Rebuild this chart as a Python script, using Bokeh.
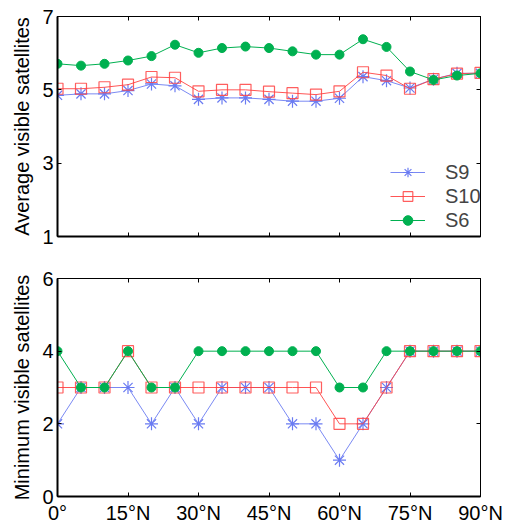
from bokeh.plotting import figure
from bokeh.models import Range1d, LinearAxis, FixedTicker
from bokeh.layouts import column
from bokeh.embed import file_html
from bokeh.resources import INLINE

lat = [0, 5, 10, 15, 20, 25, 30, 35, 40, 45, 50, 55, 60, 65, 70, 75, 80, 85, 90]
x_tick_labels = {0: "0°", 15: "15°N", 30: "30°N", 45: "45°N", 60: "60°N", 75: "75°N", 90: "90°N"}

avg_s9 = [4.85, 4.89, 4.89, 4.98, 5.16, 5.11, 4.74, 4.78, 4.78, 4.74, 4.69, 4.69, 4.77, 5.36, 5.25, 5.05, 5.29, 5.45, 5.45]
avg_s10 = [5.03, 5.03, 5.07, 5.14, 5.35, 5.33, 4.96, 5.00, 5.00, 4.95, 4.91, 4.87, 4.96, 5.48, 5.39, 5.03, 5.29, 5.44, 5.46]
avg_s6 = [5.71, 5.66, 5.71, 5.80, 5.92, 6.23, 6.01, 6.14, 6.18, 6.14, 6.05, 5.96, 5.96, 6.38, 6.17, 5.50, 5.27, 5.39, 5.45]

min_s9 = [2, 3, 3, 3, 2, 3, 2, 3, 3, 3, 2, 2, 1, 2, 3, 4, 4, 4, 4]
min_s10 = [3, 3, 3, 4, 3, 3, 3, 3, 3, 3, 3, 3, 2, 2, 3, 4, 4, 4, 4]
min_s6 = [4, 3, 3, 4, 3, 3, 4, 4, 4, 4, 4, 4, 3, 3, 4, 4, 4, 4, 4]

BLUE = "#6b7cf2"
RED = "#ff4242"
GREEN = "#00b050"
FONT = "Liberation Sans"


def hide_labels(ax):
    ax.major_label_text_color = None
    ax.major_label_text_font_size = "1px"
    ax.major_label_standoff = 0


def style(p, yticks, show_xlabels, ylabel):
    p.xgrid.visible = False
    p.ygrid.visible = False
    p.outline_line_color = "black"
    p.outline_line_width = 1
    p.background_fill_color = "white"
    p.border_fill_color = "white"
    for ax in (p.xaxis[0], p.yaxis[0]):
        ax.axis_line_width = 2
        ax.axis_line_color = "black"
        ax.major_tick_in = 4
        ax.major_tick_out = 0
        ax.minor_tick_line_color = None
        ax.major_label_text_font = FONT
        ax.major_label_text_font_size = "20px"
        ax.major_label_text_color = "black"
        ax.axis_label_text_font = FONT
        ax.axis_label_text_font_size = "20px"
        ax.axis_label_text_font_style = "normal"
        ax.axis_label_text_color = "black"
    p.xaxis[0].ticker = FixedTicker(ticks=list(x_tick_labels.keys()))
    p.xaxis[0].major_label_overrides = dict(x_tick_labels)
    p.xaxis[0].major_label_standoff = 5
    p.yaxis[0].ticker = FixedTicker(ticks=yticks)
    p.yaxis[0].major_label_standoff = 4
    p.yaxis[0].axis_label = ylabel
    p.yaxis[0].axis_label_standoff = 6
    if not show_xlabels:
        hide_labels(p.xaxis[0])
    # mirrored axes (ticks only)
    right = LinearAxis(ticker=FixedTicker(ticks=yticks),
                       major_tick_in=4, major_tick_out=0, minor_tick_line_color=None,
                       axis_line_width=1)
    top = LinearAxis(ticker=FixedTicker(ticks=list(x_tick_labels.keys())),
                     major_tick_in=4, major_tick_out=0, minor_tick_line_color=None,
                     axis_line_width=1)
    hide_labels(right)
    hide_labels(top)
    p.add_layout(right, "right")
    p.add_layout(top, "above")


def add_series(p, s9, s10, s6, legend):
    kw9 = dict(legend_label="S9") if legend else {}
    kw10 = dict(legend_label="S10") if legend else {}
    kw6 = dict(legend_label="S6") if legend else {}
    p.line(lat, s9, line_color=BLUE, line_width=1, line_alpha=0.9, **kw9)
    p.scatter(lat, s9, marker="asterisk", size=13, line_color=BLUE, line_width=1.2, **kw9)
    p.line(lat, s10, line_color=RED, line_width=1, line_alpha=0.9, **kw10)
    p.scatter(lat, s10, marker="square", size=11, line_color=RED, fill_color=None, line_width=1.2, line_alpha=0.85, **kw10)
    p.line(lat, s6, line_color=GREEN, line_width=1, **kw6)
    p.scatter(lat, s6, marker="circle", size=9, line_color=GREEN, fill_color=GREEN, **kw6)


p1 = figure(width=510, height=257, x_range=Range1d(0, 90), y_range=Range1d(1, 7),
            output_backend="svg", toolbar_location=None,
            min_border_left=57, min_border_right=30, min_border_top=16, min_border_bottom=21)
style(p1, [1, 3, 5, 7], False, "Average visible satellites")
add_series(p1, avg_s9, avg_s10, avg_s6, True)
lg = p1.legend[0]
lg.location = (333, 4)
lg.border_line_color = None
lg.background_fill_alpha = 0
lg.padding = 0
lg.margin = 0
lg.spacing = 0
lg.glyph_width = 35
lg.glyph_height = 24
lg.label_height = 24
lg.label_standoff = 20
lg.label_text_font = FONT
lg.label_text_font_size = "20px"

p2 = figure(width=510, height=269, x_range=Range1d(0, 90), y_range=Range1d(0, 6),
            output_backend="svg", toolbar_location=None,
            min_border_left=57, min_border_right=30, min_border_top=21, min_border_bottom=28)
style(p2, [0, 2, 4, 6], True, "Minimum visible satellites")
add_series(p2, min_s9, min_s10, min_s6, False)

layout = column(p1, p2, spacing=0)
open("out.html", "w").write(file_html(layout, INLINE))
